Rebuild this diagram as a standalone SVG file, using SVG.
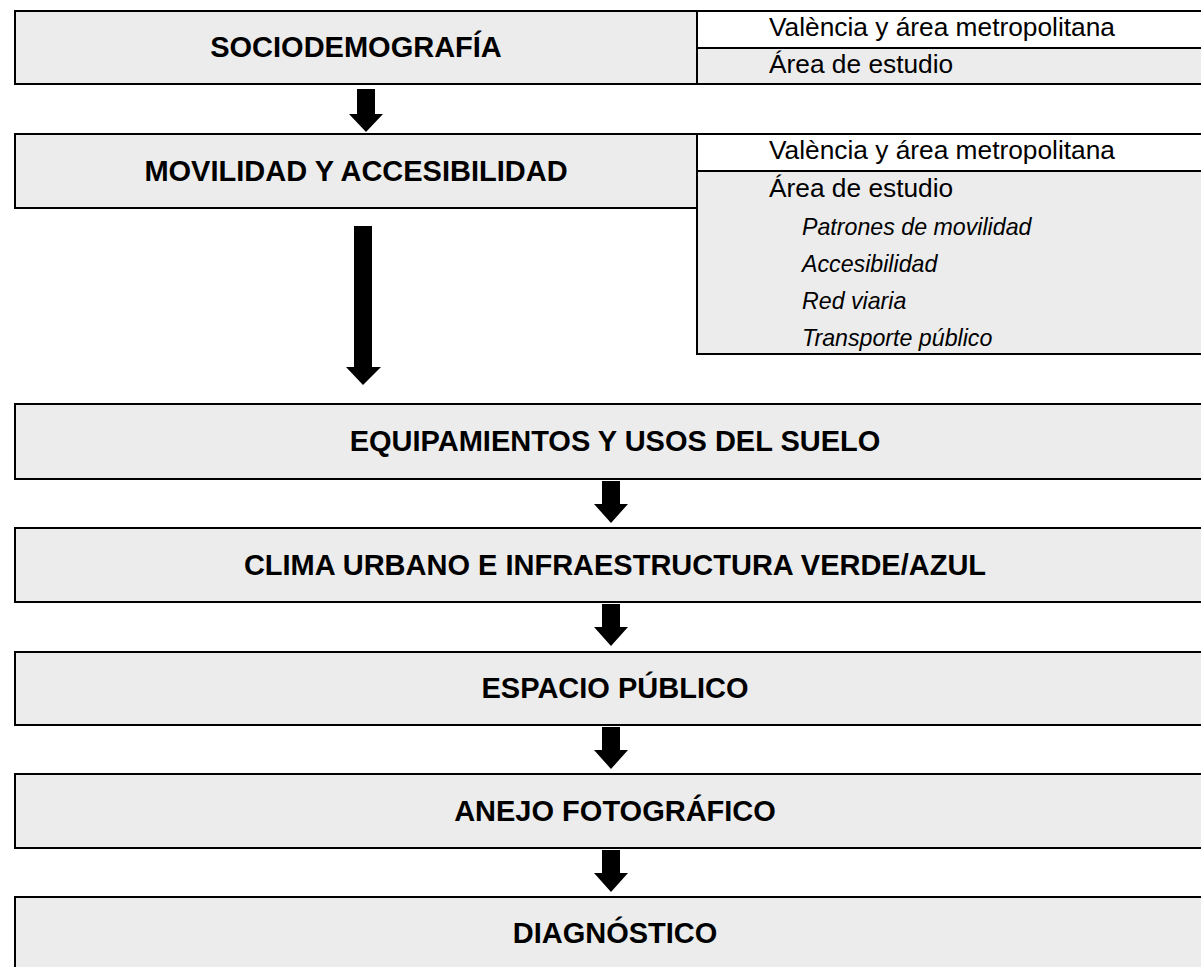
<svg xmlns="http://www.w3.org/2000/svg" width="1201" height="967" viewBox="0 0 1201 967">
<style>
.box{fill:#ececec;stroke:#000;stroke-width:2}
.wrow{fill:#fff;stroke:#000;stroke-width:2}
.title{font-family:"Liberation Sans",Arial,sans-serif;font-weight:bold;font-size:29px;fill:#000;text-anchor:middle}
.item{font-family:"Liberation Sans",Arial,sans-serif;font-size:26.3px;fill:#000}
.sub{font-family:"Liberation Sans",Arial,sans-serif;font-size:23.2px;font-style:italic;fill:#000}
.arrow{fill:#000}
</style>
<rect width="1201" height="967" fill="#fff"/>
<g id="node-sociodemografia">
<rect class="box" x="15" y="11" width="682" height="73"/>
<rect class="wrow" x="697" y="11" width="520" height="37"/>
<rect class="box" x="697" y="48" width="520" height="36"/>
<text class="title" x="356" y="57">SOCIODEMOGRAFÍA</text>
<text class="item" x="769" y="36">València y área metropolitana</text>
<text class="item" x="769" y="73">Área de estudio</text>
</g>
<g id="node-movilidad">
<rect class="box" x="15" y="134" width="682" height="74"/>
<rect class="wrow" x="697" y="134" width="520" height="37"/>
<rect class="box" x="697" y="171" width="520" height="183"/>
<text class="title" x="356" y="181">MOVILIDAD Y ACCESIBILIDAD</text>
<text class="item" x="769" y="159">València y área metropolitana</text>
<text class="item" x="769" y="197">Área de estudio</text>
<text class="sub" x="802" y="235">Patrones de movilidad</text>
<text class="sub" x="802" y="272">Accesibilidad</text>
<text class="sub" x="802" y="309">Red viaria</text>
<text class="sub" x="802" y="346">Transporte público</text>
</g>
<g id="node-equipamientos">
<rect class="box" x="15" y="404" width="1200" height="75"/>
<text class="title" x="615" y="451">EQUIPAMIENTOS Y USOS DEL SUELO</text>
</g>
<g id="node-clima">
<rect class="box" x="15" y="528" width="1200" height="74"/>
<text class="title" x="615" y="575">CLIMA URBANO E INFRAESTRUCTURA VERDE/AZUL</text>
</g>
<g id="node-espacio">
<rect class="box" x="15" y="652" width="1200" height="73"/>
<text class="title" x="615" y="698">ESPACIO PÚBLICO</text>
</g>
<g id="node-anejo">
<rect class="box" x="15" y="774" width="1200" height="74"/>
<text class="title" x="615" y="821">ANEJO FOTOGRÁFICO</text>
</g>
<g id="node-diagnostico">
<rect class="box" x="15" y="897" width="1200" height="80"/>
<text class="title" x="615" y="943">DIAGNÓSTICO</text>
</g>
<g id="connectors">
<polygon class="arrow" points="357,89 375,89 375,114 383,114 366,132 349,114 357,114"/>
<polygon class="arrow" points="354,226 372,226 372,367 381,367 363,385 346,367 354,367"/>
<polygon class="arrow" points="602,481 620,481 620,504 628,504 611,523 594,504 602,504"/>
<polygon class="arrow" points="602,604 620,604 620,627 628,627 611,646 594,627 602,627"/>
<polygon class="arrow" points="602,727 620,727 620,750 628,750 611,769 594,750 602,750"/>
<polygon class="arrow" points="602,850 620,850 620,873 628,873 611,892 594,873 602,873"/>
</g>
</svg>
